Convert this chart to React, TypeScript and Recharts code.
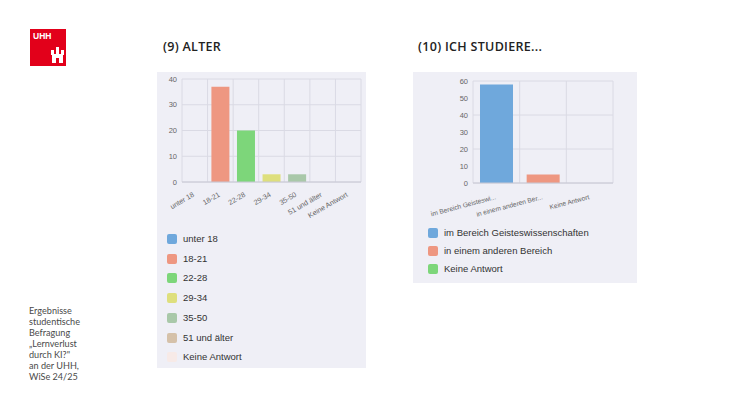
import { BarChart, Bar, XAxis, YAxis, CartesianGrid, Cell } from 'recharts'

// (9) Alter
const ageCategories = ['unter 18', '18-21', '22-28', '29-34', '35-50', '51 und älter', 'Keine Antwort']
const ageValues = [0, 37, 20, 3, 3, 0, 0]
const ageColors = ['#6FA8DC', '#EE9781', '#7DD67A', '#DEDF7D', '#A9C8A9', '#D5C1A9', '#F7EAE7']
const ageTicks = [0, 5, 10, 15, 20, 25, 30, 35, 40]

// (10) Ich studiere...
const studyCategories = ['im Bereich Geisteswissenschaften', 'in einem anderen Bereich', 'Keine Antwort']
const studyTickLabels = ['im Bereich Geisteswi...', 'in einem anderen Ber...', 'Keine Antwort']
const studyValues = [58, 5, 0]
const studyColors = ['#6FA8DC', '#EE9781', '#7DD67A']
const studyTicks = [0, 10, 20, 30, 40, 50, 60]

const footnote = ['Ergebnisse', 'studentische', 'Befragung', '„Lernverlust', 'durch KI?"', 'an der UHH,', 'WiSe 24/25']

const ageData = ageCategories.map((name, i) => ({ name, value: ageValues[i] }))
const studyData = studyCategories.map((name, i) => ({ name, value: studyValues[i] }))

const PANEL = '#EFEFF6'
const GRID = '#DADAE4'
const chartFont = '"Liberation Sans", Arial, sans-serif'

// vertical grid lines on category boundaries (chart.js look)
const boundaries = (n: number) => ({ offset }: any) =>
  Array.from({ length: n + 1 }, (_, i) => offset.left + (i * offset.width) / n)

function AngledTick({ x, y, payload, angle, labels, size, dy }: any) {
  const text = labels ? labels[payload.index] : payload.value
  const ty = y + dy
  return (
    <text
      x={x}
      y={ty}
      textAnchor="end"
      fontSize={size}
      fill="#666"
      fontFamily={chartFont}
      transform={`rotate(${angle} ${x} ${ty})`}
    >
      {text}
    </text>
  )
}

function LegendList({ items, colors, left, top, gap }: { items: string[]; colors: string[]; left: number; top: number; gap: number }) {
  return (
    <div style={{ position: 'absolute', left, top }}>
      {items.map((it, i) => (
        <div key={it} style={{ position: 'absolute', top: i * gap, left: 0, display: 'flex', alignItems: 'center', whiteSpace: 'nowrap' }}>
          <span style={{ width: 10, height: 10, borderRadius: 2, background: colors[i], display: 'inline-block' }} />
          <span style={{ marginLeft: 6, fontSize: 9.5, color: '#333', fontFamily: chartFont, lineHeight: '12px' }}>{it}</span>
        </div>
      ))}
    </div>
  )
}

export default function App() {
  const titleStyle: React.CSSProperties = {
    position: 'absolute',
    fontFamily: '"Open Sans", sans-serif',
    fontWeight: 600,
    fontSize: 12.5,
    letterSpacing: 0.3,
    textTransform: 'uppercase',
    color: '#222',
    lineHeight: '14px',
    whiteSpace: 'nowrap',
  }
  return (
    <div style={{ position: 'absolute', left: 0, top: 0, width: 733, height: 414, background: '#fff', overflow: 'hidden' }}>
      {/* logo */}
      <svg style={{ position: 'absolute', left: 30, top: 29 }} width={36} height={37}>
        <rect x={0} y={0} width={36} height={37} fill="#E2001A" />
        <text x={3} y={10} fontSize={8.5} fontWeight={700} fill="#fff" fontFamily={chartFont}>UHH</text>
        <rect x={22} y={25} width={11} height={9} fill="#fff" />
        <rect x={21} y={21} width={3} height={5} fill="#fff" />
        <rect x={26} y={18} width={3} height={7} fill="#fff" />
        <rect x={31} y={21} width={3} height={5} fill="#fff" />
        <rect x={26} y={29} width={3} height={5} fill="#E2001A" />
      </svg>

      <div style={{ ...titleStyle, left: 163, top: 40 }}>(9) Alter</div>
      <div style={{ ...titleStyle, left: 418, top: 40 }}>(10) Ich studiere...</div>

      {/* left panel */}
      <div style={{ position: 'absolute', left: 157, top: 72, width: 209, height: 296, background: PANEL }} />
      <div style={{ position: 'absolute', left: 157, top: 72 }}>
        <BarChart width={209} height={150} data={ageData} margin={{ top: 7, right: 5, left: 0, bottom: 0 }} barCategoryGap="15%">
          <CartesianGrid stroke={GRID} verticalCoordinatesGenerator={boundaries(ageCategories.length)} />
          <XAxis
            dataKey="name"
            interval={0}
            height={40}
            axisLine={{ stroke: '#C8C8D4' }}
            tickLine={false}
            tick={<AngledTick angle={-30} size={7.2} dy={6} />}
          />
          <YAxis
            width={25}
            domain={[0, 40]}
            ticks={ageTicks}
            axisLine={false}
            tickLine={false}
            tickSize={0}
            tickMargin={5}
            tick={{ fontSize: 7.5, fill: '#666', fontFamily: chartFont }}
          />
          <Bar dataKey="value" isAnimationActive={false}>
            {ageData.map((d, i) => (
              <Cell key={d.name} fill={ageColors[i]} />
            ))}
          </Bar>
        </BarChart>
      </div>
      <LegendList items={ageCategories} colors={ageColors} left={167} top={233} gap={19.7} />

      {/* right panel */}
      <div style={{ position: 'absolute', left: 413, top: 72, width: 224, height: 211, background: PANEL }} />
      <div style={{ position: 'absolute', left: 413, top: 72 }}>
        <BarChart width={203} height={150} data={studyData} margin={{ top: 9, right: 3, left: 0, bottom: 0 }} barCategoryGap="15%">
          <CartesianGrid stroke={GRID} verticalCoordinatesGenerator={boundaries(studyCategories.length)} />
          <XAxis
            dataKey="name"
            interval={0}
            height={39}
            axisLine={{ stroke: '#C8C8D4' }}
            tickLine={false}
            tick={<AngledTick angle={-15} labels={studyTickLabels} size={6.6} dy={8} />}
          />
          <YAxis
            width={60}
            domain={[0, 60]}
            ticks={studyTicks}
            axisLine={false}
            tickLine={false}
            tickSize={0}
            tickMargin={5}
            tick={{ fontSize: 7.5, fill: '#666', fontFamily: chartFont }}
          />
          <Bar dataKey="value" isAnimationActive={false}>
            {studyData.map((d, i) => (
              <Cell key={d.name} fill={studyColors[i]} />
            ))}
          </Bar>
        </BarChart>
      </div>
      <LegendList items={studyCategories} colors={studyColors} left={428} top={227} gap={18} />

      {/* footnote */}
      <div style={{ position: 'absolute', left: 29, top: 305, fontFamily: 'Lato, sans-serif', fontSize: 9.1, color: '#4a4a4a' }}>
        {footnote.map((l, i) => (
          <div key={l} style={{ position: 'absolute', top: i * 11, left: 0, whiteSpace: 'nowrap', lineHeight: '11px' }}>{l}</div>
        ))}
      </div>
    </div>
  )
}
